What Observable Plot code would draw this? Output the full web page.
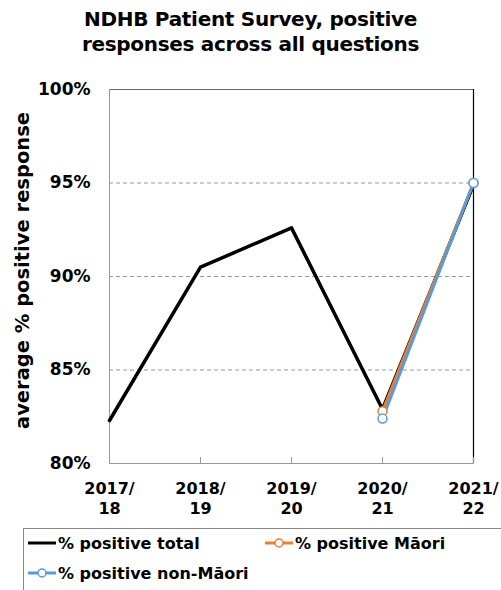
<!DOCTYPE html>
<html>
<head>
<meta charset="utf-8">
<script src="https://cdn.jsdelivr.net/npm/d3@7"></script>
<script src="https://cdn.jsdelivr.net/npm/@observablehq/plot@0.6"></script>
<style>
  html, body { margin: 0; padding: 0; background: #fff; }
  body { width: 501px; height: 590px; overflow: hidden; font-family: "DejaVu Sans", sans-serif; font-weight: bold; }
  #title { height: 62px; text-align: center; font-size: 20px; line-height: 25px; padding-top: 7px; box-sizing: border-box; color: #000; letter-spacing: -0.3px; }
  #legend { position: absolute; left: 23px; top: 528px; width: 500px; height: 70px; border: 1px solid #888; box-sizing: border-box; font-size: 16px; }
  .item { position: absolute; display: flex; align-items: center; white-space: nowrap; }
  .item svg { margin-right: 2px; }
</style>
</head>
<body>
<div id="title">NDHB Patient Survey, positive<br>responses across all questions</div>
<div id="chart"></div>
<div id="legend"></div>
<script>
const years = ["2017/18", "2018/19", "2019/20", "2020/21", "2021/22"];
const total = [82.3, 90.5, 92.6, 82.9, 94.9];
const maori = [null, null, null, 82.8, 95.0];
const nonMaori = [null, null, null, 82.4, 95.0];
const seriesNames = ["% positive total", "% positive Māori", "% positive non-Māori"];
const seriesColors = ["#000000", "#ED7D31", "#5B9BD5"];
const yTicks = [80, 85, 90, 95, 100];
const yLabel = "average % positive response";

const rows = [];
[total, maori, nonMaori].forEach((arr, si) => {
  arr.forEach((v, i) => { if (v != null) rows.push({series: seriesNames[si], year: years[i], value: v}); });
});
const sub = rows.filter(d => d.series !== seriesNames[0]);

const tickShape = {draw(context, l) { context.moveTo(0, 0); context.lineTo(0, -l); }};

const chart = Plot.plot({
  width: 501,
  height: 466,
  marginLeft: 109,
  marginRight: 28,
  marginTop: 27,
  marginBottom: 65,
  style: {fontFamily: "DejaVu Sans, sans-serif", fontWeight: "bold", background: "#fff"},
  x: {type: "point", domain: years, padding: 0},
  y: {domain: [80, 100]},
  color: {domain: seriesNames, range: seriesColors},
  marks: [
    Plot.ruleY([85, 90, 95], {stroke: "#999", strokeDasharray: "4,3", strokeWidth: 1}),
    Plot.ruleY([100], {stroke: "#666", strokeWidth: 1.2}),
    Plot.ruleY([80], {stroke: "#999", strokeWidth: 1}),
    Plot.ruleX([years[0]], {stroke: "#999", strokeWidth: 1}),
    Plot.ruleX([years[4]], {stroke: "#000", strokeWidth: 1.2}),
    Plot.vector(years, {x: d => d, y: 80, length: 6, rotate: 0, anchor: "start", shape: tickShape, stroke: "#999", strokeWidth: 1}),
    Plot.axisY({ticks: yTicks, tickSize: 0, tickPadding: 19, tickFormat: d => d + "%", fontSize: 17, fill: "#000", label: null}),
    Plot.text([yLabel], {text: d => d, frameAnchor: "left", textAnchor: "middle", dx: -87, dy: -6, rotate: -90, fontSize: 19.5, fill: "#000"}),
    Plot.axisX({tickSize: 0, tickPadding: 16, fontSize: 16, lineHeight: 1.25, fill: "#000", label: null,
      tickFormat: d => d.replace("/", "/\n")}),
    Plot.line(rows, {x: "year", y: "value", z: "series", stroke: "series", strokeWidth: d => d.series === seriesNames[0] ? 3.5 : 3}),
    Plot.dot(sub, {x: "year", y: "value", stroke: "series", fill: "#fff", r: 4.5, strokeWidth: 1.5})
  ]
});
document.getElementById("chart").appendChild(chart);

const legend = document.getElementById("legend");
const pos = [[4, 4], [241, 4], [4, 34]];
seriesNames.forEach((name, i) => {
  const div = document.createElement("div");
  div.className = "item";
  div.style.left = pos[i][0] + "px";
  div.style.top = pos[i][1] + "px";
  const marker = i > 0 ? `<circle cx="14" cy="10" r="4" fill="#fff" stroke="${seriesColors[i]}" stroke-width="1.5"/>` : "";
  div.innerHTML = `<svg width="28" height="20"><line x1="0" x2="28" y1="10" y2="10" stroke="${seriesColors[i]}" stroke-width="3"/>${marker}</svg><span>${name}</span>`;
  legend.appendChild(div);
});
</script>
</body>
</html>
